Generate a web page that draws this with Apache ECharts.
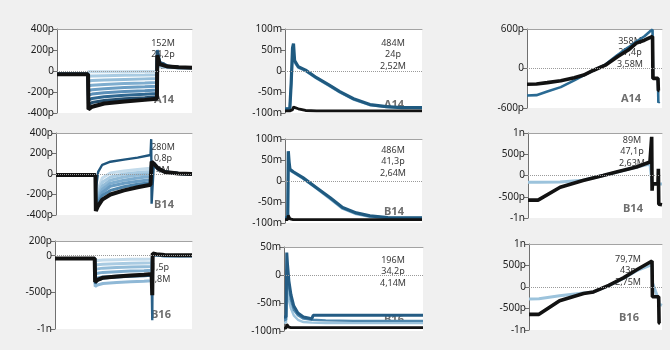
<!DOCTYPE html>
<html>
<head>
<meta charset="utf-8">
<script src="https://cdn.jsdelivr.net/npm/echarts@6/dist/echarts.min.js"></script>
<style>
  html, body { margin: 0; padding: 0; background: #f0f0f0; }
  #chart { width: 670px; height: 350px; }
</style>
</head>
<body>
<div id="chart"></div>
<script>
// --- step protocol, A14 (pA)
const stepTimeA14 = [0, 23, 23.3, 26, 35, 50, 65, 74, 74.3, 76, 82, 90, 100]
const stepA14 = [
  [-30, -30, -5, -8, -8, -6, -5, -5, 60, 40, 30, 30, 30],
  [-30, -30, -50, -48, -45, -40, -38, -35, 90, 50, 35, 30, 30],
  [-30, -30, -95, -90, -85, -80, -75, -72, 110, 60, 38, 32, 30],
  [-30, -30, -140, -135, -128, -120, -115, -110, 130, 65, 40, 32, 32],
  [-30, -30, -185, -178, -168, -158, -150, -145, 150, 70, 42, 34, 32],
  [-30, -30, -230, -220, -208, -196, -188, -182, 170, 75, 45, 35, 33],
  [-30, -30, -275, -262, -245, -232, -222, -215, 200, 85, 48, 36, 34],
  [-30, -30, -320, -300, -280, -265, -255, -245, 190, 80, 45, 36, 34],
  [-30, -30, -365, -340, -310, -290, -275, -265, 150, 65, 42, 35, 32],
]

// --- step protocol, B14 (pA)
const stepTimeB14 = [0, 29, 29.3, 31, 34, 40, 50, 60, 69.5, 69.8, 70, 70.3, 72, 75, 80, 90, 100]
const stepB14 = [
  [-10, -10, -300, -150, -40, 10, 30, 45, 55, 55, 55, 100, 90, 50, 20, 5, 0],
  [-10, -10, -310, -180, -80, -30, 0, 15, 25, 25, 25, 100, 90, 50, 20, 5, 0],
  [-10, -10, -320, -210, -120, -60, -30, -10, 0, 0, 0, 100, 90, 50, 20, 5, 0],
  [-10, -10, -330, -240, -150, -90, -60, -40, -25, -25, -25, 100, 90, 50, 20, 5, 0],
  [-10, -10, -340, -260, -180, -120, -90, -70, -55, -55, -55, 100, 90, 50, 20, 5, 0],
  [-10, -10, -350, -280, -210, -160, -125, -100, -85, -85, -85, 100, 90, 50, 20, 5, 0],
  [-10, -10, -150, 20, 90, 120, 140, 160, 185, 190, 340, -290, 110, 60, 25, 5, 0],
  [-10, -10, -360, -310, -250, -200, -160, -130, -105, -105, -105, 120, 100, 55, 20, 5, 0],
]

// --- step protocol, B16 (pA)
const stepTimeB16 = [0, 29, 29.3, 31, 35, 45, 55, 65, 70.5, 70.8, 71, 71.3, 72, 74, 80, 90, 100]
const stepB16 = [
  [-40, -40, -70, -65, -60, -55, -50, -48, -45, -45, -45, 0, 10, 5, 0, 0, 0],
  [-40, -40, -130, -125, -118, -110, -105, -100, -98, -98, -98, 0, 10, 5, 0, 0, 0],
  [-40, -40, -190, -180, -170, -162, -155, -150, -148, -148, -148, 0, 10, 5, 0, 0, 0],
  [-40, -40, -250, -240, -228, -218, -210, -205, -200, -200, -200, 0, 10, 5, 0, 0, 0],
  [-40, -40, -320, -305, -290, -280, -272, -266, -262, -262, -262, 0, 10, 5, 0, 0, 0],
  [-40, -40, -420, -400, -380, -365, -355, -348, -342, -342, -342, 0, 10, 5, 0, 0, 0],
  [-40, -40, -380, -340, -310, -295, -285, -278, -272, -272, -880, 0, 20, 10, 0, 0, 0],
  [-40, -40, -360, -330, -300, -285, -270, -260, -250, -250, -540, 30, 40, 20, 10, 5, 5],
]

// --- decay, A14 (mV)
const decayTimeA14 = [0, 3.5, 4.5, 5.5, 6.2, 7, 9.7, 15, 23, 32, 40, 50, 62, 74, 85, 100]
const decayA14 = [
  [-90, -90, -90, 30, 45, 20, 8, 0, -18, -35, -51, -68, -81, -86, -87, -88],
  [-90, -90, -30, 55, 65, 25, 10, 2, -16, -33, -49, -66, -80, -85, -87, -87],
  [-95, -95, -95, -92, -86, -84, -90, -94, -95, -95, -95, -95, -95, -95, -95, -95],
]

// --- decay, B14 (mV)
const decayTimeB14 = [0, 2, 2.4, 3, 3.6, 6, 13, 23, 33, 42, 52, 62, 75, 100]
const decayB14 = [
  [-88, -88, 40, 35, 25, 20, 6, -18, -43, -66, -79, -85, -88, -88],
  [-88, -88, 71, 45, 28, 22, 8, -16, -40, -63, -76, -83, -87, -88],
  [-92, -92, -82, -86, -90, -92, -92, -92, -92, -92, -92, -92, -92, -92],
]

// --- decay, B16 (mV)
const decayTimeB16 = [0, 1.5, 2, 2.5, 3.5, 5, 7, 10, 14, 20, 21, 30, 50, 70, 100]
const decayB16 = [
  [-85, -85, -20, -30, -45, -60, -72, -80, -84, -85, -85, -86, -86, -86, -86],
  [-80, -80, 10, 0, -20, -45, -62, -72, -78, -80, -80, -81, -82, -82, -82],
  [-75, -75, 40, 20, -10, -35, -55, -68, -75, -78, -72, -72, -72, -72, -72],
  [-95, -95, -88, -90, -93, -94, -94, -94, -94, -94, -94, -94, -94, -94, -94],
]

// --- ramp, A14 (pA)
const rampTimeA14 = [0, 7, 15, 25, 35, 42, 49, 58, 67, 75, 81, 87, 91, 93, 93.3, 97, 97.3, 98]
const rampA14 = [
  [-410, -405, -350, -283, -180, -103, -30, 60, 205, 320, 410, 490, 563, 590, -150, -150, -520, -500],
  [-240, -235, -215, -185, -140, -100, -30, 50, 178, 280, 385, 430, 470, 486, -150, -150, -335, -335],
]

// --- ramp, B14 (pA)
const rampTimeB14 = [0, 7.5, 24, 41, 56, 66, 81, 91, 92, 92.3, 92.6, 92.9, 97, 97.3, 97.6, 100]
const rampB14 = [
  [-160, -160, -155, -110, 0, 75, 200, 270, 280, 280, -180, -190, -200, -200, -200, -200],
  [-580, -580, -278, -119, 0, 80, 200, 317, 330, 910, -357, -198, -198, 160, -675, -690],
]

// --- ramp, B16 (pA)
const rampTimeB16 = [0, 7.5, 23, 41, 48.5, 60, 71, 81, 92.5, 92.8, 97.5, 97.8, 98.7, 100]
const rampB16 = [
  [-280, -275, -205, -140, -114, 30, 200, 380, 520, 100, -300, -400, -420, -430],
  [-636, -636, -318, -152, -114, 40, 212, 400, 606, -227, -227, -833, -850, null],
]

// per-panel annotation text
const notes = [
  ['152M', '24,2p', '2'],
  ['484M', '24p', '2,52M'],
  ['358M', '27,4p', '3,58M'],
  ['280M', '0,8p', '4M'],
  ['486M', '41,3p', '2,64M'],
  ['89M', '47,1p', '2,63M'],
  ['', '1,5p', '5,8M'],
  ['196M', '34,2p', '4,14M'],
  ['79,7M', '43p', '2,75M'],
]
const cellNames = ['A14', 'A14', 'A14', 'B14', 'B14', 'B14', 'B16', 'B16', 'B16']

// y ranges
const yMin = [-400, -100, -600, -400, -100, -1000, -1000, -100, -1000]
const yMax = [400, 100, 600, 400, 100, 1000, 200, 50, 1000]
const yStep = [200, 50, 600, 200, 50, 500, 500, 50, 500]
const yTicksB16 = [-1000, -500, 0, 200]

// layout (px)
const grids = [
  {left: 57, top: 29, width: 135, height: 84},
  {left: 285, top: 29, width: 137, height: 84},
  {left: 527, top: 29, width: 135, height: 79},
  {left: 56, top: 133, width: 136, height: 82},
  {left: 285, top: 139, width: 137, height: 84},
  {left: 528, top: 133, width: 134, height: 85},
  {left: 55, top: 241, width: 137, height: 88},
  {left: 284, top: 247, width: 139, height: 84},
  {left: 529, top: 244, width: 133, height: 86},
]
// annotation anchor: centre x, first line y, label y
const noteAt = [
  [163, 43, 100], [393, 43, 105], [630, 41, 99],
  [163, 147, 205], [393, 150, 212], [632, 140, 209],
  [160, 256, 315], [393, 260, 320], [628, 259, 318],
]

const stepColors = ['#c3dbeb', '#a9cbe2', '#93bcd8', '#7eadcf', '#6a9dc3', '#5a8fb8', '#2f6790', '#244f6f', '#121212']
const fmtP = v => v === 0 ? '0' : (Math.abs(v) >= 1000 ? (v / 1000) + 'n' : v + 'p')
const fmtM = v => v === 0 ? '0' : v + 'm'

const zeroLine = {
  silent: true, symbol: 'none', label: {show: false},
  lineStyle: {color: '#9a9a9a', type: 'dotted', width: 1},
  data: [{yAxis: 0}],
}

function trace(gi, times, values, color, width) {
  return {
    type: 'line', xAxisIndex: gi, yAxisIndex: gi,
    data: times.map((t, i) => [t, values[i]]),
    symbol: 'none', showSymbol: false, silent: true,
    lineStyle: {color, width},
  }
}

const series = []
function addFamily(gi, times, rows, colors, widths) {
  rows.forEach((row, i) => {
    const s = trace(gi, times, row, colors[i], widths[i])
    if (i === 0) s.markLine = zeroLine
    series.push(s)
  })
}

// left column: step families, black last
addFamily(0, stepTimeA14, stepA14, stepColors, [3, 3, 3, 3, 3, 3, 3, 3, 4])
addFamily(3, stepTimeB14, stepB14,
  ['#c3dbeb', '#a9cbe2', '#93bcd8', '#7eadcf', '#6a9dc3', '#4f86ad', '#1f557c', '#121212'],
  [3, 3, 3, 3, 3, 3, 2.4, 4])
addFamily(6, stepTimeB16, stepB16,
  ['#c3dbeb', '#a9cbe2', '#93bcd8', '#7eadcf', '#6a9dc3', '#8fb8d6', '#2a6189', '#121212'],
  [3, 3, 3, 3, 3, 3, 2.4, 4])

// middle column: decays
addFamily(1, decayTimeA14, decayA14, ['#7fb0d0', '#1f5a80', '#121212'], [2.4, 3.2, 2.8])
addFamily(4, decayTimeB14, decayB14, ['#7fb0d0', '#1f5a80', '#121212'], [2.4, 3.2, 2.8])
addFamily(7, decayTimeB16, decayB16, ['#9cc3dc', '#4d86ad', '#245c84', '#121212'], [2.4, 2.4, 3, 2.8])

// right column: ramps
addFamily(2, rampTimeA14, rampA14, ['#2a6a93', '#121212'], [2.6, 3.6])
addFamily(5, rampTimeB14, rampB14, ['#9cc3dc', '#121212'], [3, 3.6])
addFamily(8, rampTimeB16, rampB16, ['#9cc3dc', '#121212'], [3, 3.6])

const xAxes = grids.map((g, i) => ({
  type: 'value', gridIndex: i, min: 0, max: 100, position: 'top',
  axisLine: {show: true, onZero: false, lineStyle: {color: '#a3a3a3', width: 1}},
  axisTick: {show: false}, axisLabel: {show: false}, splitLine: {show: false},
}))

const yAxes = grids.map((g, i) => {
  const isMilli = i % 3 === 1
  const ax = {
    type: 'value', gridIndex: i, min: yMin[i], max: yMax[i], interval: yStep[i],
    axisLine: {show: true, onZero: false, lineStyle: {color: '#707070'}},
    axisTick: {show: true, length: 4, lineStyle: {color: '#707070'}},
    axisLabel: {
      color: '#1e1e1e', fontSize: 10, margin: 3, fontFamily: 'Noto Sans',
      formatter: isMilli ? fmtM : fmtP,
    },
    splitLine: {show: false},
  }
  if (i === 6) {
    ax.axisLabel.customValues = yTicksB16
    ax.axisTick.customValues = yTicksB16
  }
  return ax
})

const texts = []
notes.forEach((lines, i) => {
  const [cx, y0, yl] = noteAt[i]
  lines.forEach((txt, k) => {
    if (!txt) return
    texts.push({
      type: 'text', z: 1, x: cx, y: y0 + k * 11.5,
      style: {text: txt, fill: '#3a3a3a', font: '9px "Noto Sans"', textAlign: 'center', textVerticalAlign: 'middle'},
    })
  })
  texts.push({
    type: 'text', z: 1, x: cx + 1, y: yl,
    style: {text: cellNames[i], fill: '#6e6e6e', font: 'bold 11px "Noto Sans"', textAlign: 'center', textVerticalAlign: 'middle'},
  })
})

const chart = echarts.init(document.getElementById('chart'), null, {renderer: 'canvas'})
chart.setOption({
  backgroundColor: '#f0f0f0',
  animation: false,
  grid: grids.map(g => Object.assign({show: true, backgroundColor: '#ffffff', borderWidth: 0}, g)),
  xAxis: xAxes,
  yAxis: yAxes,
  graphic: {elements: texts},
  series,
})
</script>
</body>
</html>
